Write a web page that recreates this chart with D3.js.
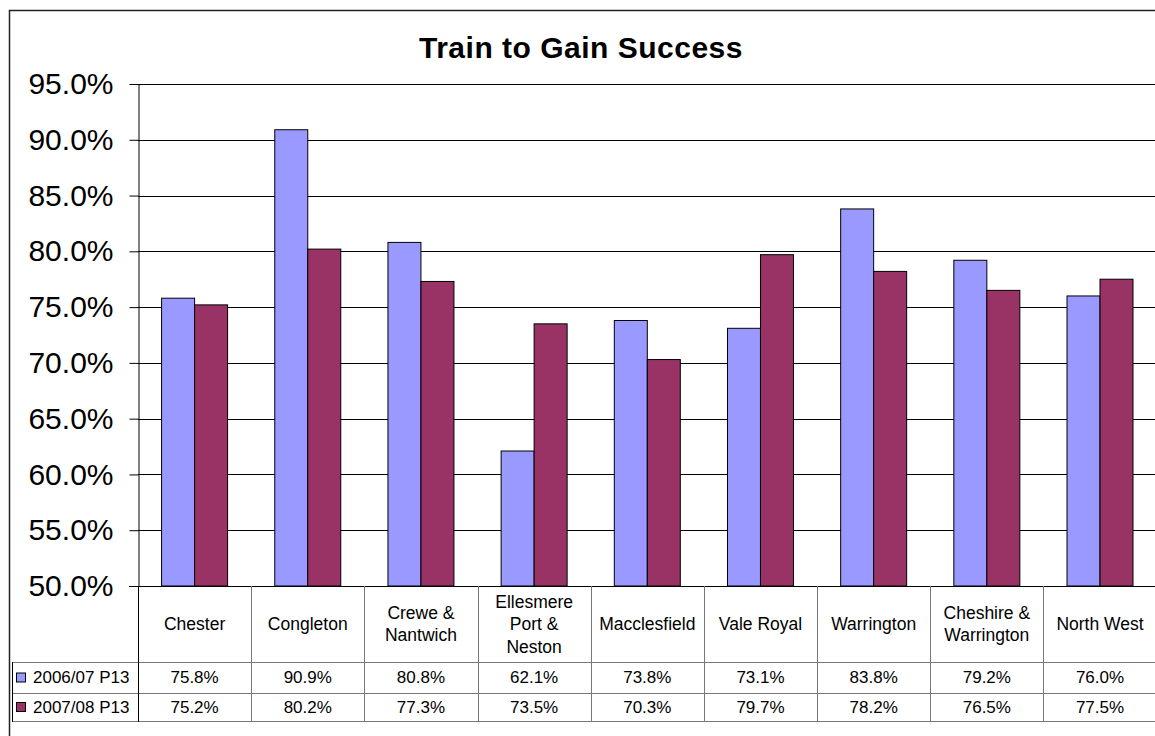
<!DOCTYPE html>
<html>
<head>
<meta charset="utf-8">
<script src="https://cdn.jsdelivr.net/npm/d3@7"></script>
<style>
  body { margin: 0; background: #fff; }
  text { font-family: Arial, "Liberation Sans", sans-serif; fill: #000; }
</style>
</head>
<body>
<div id="chart"></div>
<script>
// chart data
var categories = ["Chester", "Congleton", "Crewe &\nNantwich", "Ellesmere\nPort &\nNeston",
                  "Macclesfield", "Vale Royal", "Warrington", "Cheshire &\nWarrington", "North West"];
var seriesNames = ["2006/07 P13", "2007/08 P13"];
var values0607 = [0.758, 0.909, 0.808, 0.621, 0.738, 0.731, 0.838, 0.792, 0.760];
var values0708 = [0.752, 0.802, 0.773, 0.735, 0.703, 0.797, 0.782, 0.765, 0.775];
var yTicks = [0.50, 0.55, 0.60, 0.65, 0.70, 0.75, 0.80, 0.85, 0.90, 0.95];
var colors = ["#9999FF", "#993366"];

function init(){
    var w = 1155;
    var h = 736;
    var plotLeft = 138, plotRight = 1156.6;
    var plotTop = 84, plotBottom = 586;
    var catBottom = 662, row1Bottom = 693, row2Bottom = 721;
    var legendLeft = 12;
    var series = [values0607, values0708];
    var fmt = d3.format(".1%");

    var svg = d3.select("#chart")
      .append("svg")
      .attr("width", w)
      .attr("height", h);

    // outer chart border
    svg.append("rect")
      .attr("x", 9.5).attr("y", 10.5)
      .attr("width", 1160).attr("height", 740)
      .attr("fill", "none")
      .attr("stroke", "#222")
      .attr("stroke-width", 1.5);

    svg.append("text")
      .attr("x", 581).attr("y", 58)
      .attr("text-anchor", "middle")
      .style("font-size", "30px")
      .style("letter-spacing", "0.5px")
      .style("font-weight", "bold")
      .text("Train to Gain Success");

    var xScale = d3.scaleBand()
      .domain(categories)
      .range([plotLeft, plotRight])
      .padding(0);

    var xSub = d3.scaleBand()
      .domain([0, 1])
      .range([0, xScale.bandwidth()])
      .paddingInner(0)
      .paddingOuter(0.715);

    var yScale = d3.scaleLinear()
      .domain([0.5, 0.95])
      .range([plotBottom, plotTop]);

    // gridlines
    svg.append("g")
      .selectAll("line")
      .data(yTicks)
      .enter()
      .append("line")
      .attr("x1", plotLeft).attr("x2", w)
      .attr("y1", function(d){ return Math.round(yScale(d)) + 0.5; })
      .attr("y2", function(d){ return Math.round(yScale(d)) + 0.5; })
      .attr("stroke", "#000")
      .attr("stroke-width", 1);

    // bars
    series.forEach(function(vals, si){
      svg.append("g")
        .selectAll("rect")
        .data(vals)
        .enter()
        .append("rect")
        .attr("x", function(d, i){ return xScale(categories[i]) + xSub(si); })
        .attr("y", function(d){ return yScale(d); })
        .attr("width", xSub.bandwidth())
        .attr("height", function(d){ return plotBottom - yScale(d); })
        .attr("fill", colors[si])
        .attr("stroke", "#000")
        .attr("stroke-width", 1);
    });

    // y axis
    var yAxis = d3.axisLeft(yScale)
      .tickValues(yTicks)
      .tickFormat(fmt)
      .tickSize(9)
      .tickSizeOuter(0)
      .tickPadding(16);

    var gy = svg.append("g")
      .attr("transform", "translate(" + (plotLeft + 0.5) + ",0)")
      .call(yAxis);
    gy.selectAll("text")
      .style("font-size", "30px")
      .style("font-family", "Arial, 'Liberation Sans', sans-serif");
    gy.selectAll("line").attr("stroke", "#000");
    gy.select(".domain").attr("stroke", "#000");

    // x axis line
    svg.append("line")
      .attr("x1", plotLeft - 9).attr("x2", w)
      .attr("y1", plotBottom + 0.5).attr("y2", plotBottom + 0.5)
      .attr("stroke", "#000");

    // data table
    var table = svg.append("g");
    // vertical column separators
    table.selectAll("line.col")
      .data(categories.slice(1))
      .enter()
      .append("line")
      .attr("class", "col")
      .attr("x1", function(d){ return Math.round(xScale(d)) + 0.5; })
      .attr("x2", function(d){ return Math.round(xScale(d)) + 0.5; })
      .attr("y1", plotBottom).attr("y2", row2Bottom)
      .attr("stroke", "#777");

    [catBottom, row1Bottom, row2Bottom].forEach(function(yy){
      table.append("line")
        .attr("x1", legendLeft).attr("x2", w)
        .attr("y1", yy + 0.5).attr("y2", yy + 0.5)
        .attr("stroke", "#777");
    });
    table.append("line")
      .attr("x1", legendLeft + 0.5).attr("x2", legendLeft + 0.5)
      .attr("y1", catBottom).attr("y2", row2Bottom + 1)
      .attr("stroke", "#000");
    table.append("line")
      .attr("x1", plotLeft + 0.5).attr("x2", plotLeft + 0.5)
      .attr("y1", plotBottom).attr("y2", row2Bottom + 1)
      .attr("stroke", "#000");

    // category labels
    var lineH = 22.5;
    var catMid = (plotBottom + catBottom) / 2;
    categories.forEach(function(c){
      var lines = c.split("\n");
      var t = table.append("text")
        .attr("text-anchor", "middle")
        .style("font-size", "17.5px");
      lines.forEach(function(l, k){
        t.append("tspan")
          .attr("x", xScale(c) + xScale.bandwidth() / 2)
          .attr("y", catMid + (k - (lines.length - 1) / 2) * lineH)
          .attr("dy", "0.35em")
          .text(l);
      });
    });

    // value rows
    var rowMids = [(catBottom + row1Bottom) / 2, (row1Bottom + row2Bottom) / 2];
    series.forEach(function(vals, si){
      table.selectAll("text.v" + si)
        .data(vals)
        .enter()
        .append("text")
        .attr("class", "v" + si)
        .attr("x", function(d, i){ return xScale(categories[i]) + xScale.bandwidth() / 2; })
        .attr("y", rowMids[si])
        .attr("dy", "0.35em")
        .attr("text-anchor", "middle")
        .style("font-size", "17px")
        .text(function(d){ return fmt(d); });

      table.append("rect")
        .attr("x", 16.5).attr("y", rowMids[si] - 4.5)
        .attr("width", 9).attr("height", 9)
        .attr("fill", colors[si])
        .attr("stroke", "#000");
      table.append("text")
        .attr("x", 33).attr("y", rowMids[si])
        .attr("dy", "0.35em")
        .style("font-size", "17px")
        .text(seriesNames[si]);
    });
}

window.onload = init;
</script>
</body>
</html>
